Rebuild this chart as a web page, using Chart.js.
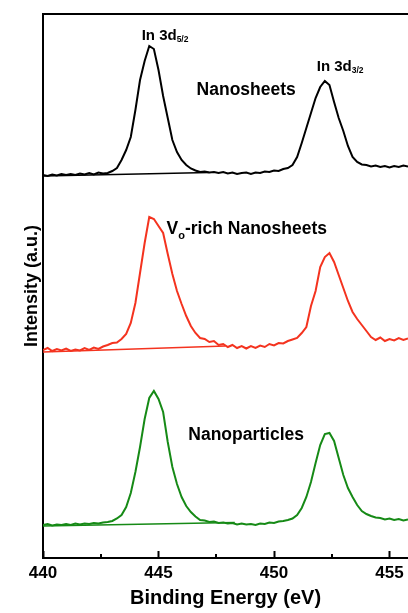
<!DOCTYPE html>
<html>
<head>
<meta charset="utf-8">
<script src="https://cdn.jsdelivr.net/npm/chart.js@4.4.0/dist/chart.umd.min.js"></script>
<style>
  html, body { margin: 0; padding: 0; background: #fff; }
</style>
</head>
<body>
<canvas id="xpsChart" width="408" height="613"></canvas>
<script>
// binding energy (eV)
const energy = [
  440.0, 440.2, 440.4, 440.6, 440.8, 441.0, 441.2, 441.4, 441.6, 441.8,
  442.0, 442.2, 442.4, 442.6, 442.8, 443.0, 443.2, 443.4, 443.6, 443.8,
  444.0, 444.2, 444.4, 444.6, 444.8, 445.0, 445.2, 445.4, 445.6, 445.8,
  446.0, 446.2, 446.4, 446.6, 446.8, 447.0, 447.2, 447.4, 447.6, 447.8,
  448.0, 448.2, 448.4, 448.6, 448.8, 449.0, 449.2, 449.4, 449.6, 449.8,
  450.0, 450.2, 450.4, 450.6, 450.8, 451.0, 451.2, 451.4, 451.6, 451.8,
  452.0, 452.2, 452.4, 452.6, 452.8, 453.0, 453.2, 453.4, 453.6, 453.8,
  454.0, 454.2, 454.4, 454.6, 454.8, 455.0, 455.2, 455.4, 455.6, 455.8
];

// intensity (a.u., stacked offsets)
const nanosheets = [
  383, 382, 383.5, 382.5, 384, 383, 384, 383, 384.5, 383.5,
  385, 383.5, 385.5, 384.5, 385, 387, 390, 398, 408, 421,
  448, 478, 497, 512, 509, 488, 462, 440, 418, 406,
  398, 393, 389.5, 387.5, 386, 386.5, 385.5, 386, 385, 386,
  384.5, 385.5, 384, 385, 385.5, 384, 385.5, 385, 386.5, 386,
  387.5, 387, 389, 390, 393, 401, 415, 430, 445, 460,
  471, 477, 473, 456, 440, 427, 412, 401, 396, 393.5,
  393, 391.5, 392.5, 391, 392, 390.5, 392, 391, 392.5, 391.5
];
const voRich = [
  208, 210, 207, 209, 207.5, 209.5, 207, 208.5, 207.5, 210,
  208, 210.5, 209, 211.5, 213, 215, 215.5, 219, 224, 235,
  255, 285, 315, 341, 339, 332, 325, 304, 284, 267,
  254, 242, 232, 225, 220, 219, 216, 217, 213, 214,
  211, 213, 210, 212, 209.5, 212, 210, 212.5, 211, 214,
  212.5, 215, 214.5, 217, 218.5, 220, 225, 231, 252, 267,
  291, 301, 305, 296, 283, 270, 257, 246, 239, 233,
  227, 221, 218, 220.5, 217, 219, 217.5, 220, 218, 219.5
];
const nanoparticles = [
  33, 34, 32.5, 33.5, 33, 34, 33, 34.5, 33.5, 34.5,
  34, 35, 34.5, 35.5, 36, 37, 39.5, 43, 51, 65,
  86, 111, 139, 160, 167, 159, 146, 116, 91, 74,
  61, 52, 46, 41.5, 38, 37.5, 36, 36.5, 35, 35.5,
  34.5, 35, 33.5, 34.5, 33.5, 34, 33, 34.5, 34, 35.5,
  35, 36.5, 37, 38, 39.5, 43, 50, 61, 76, 95,
  113, 124, 125, 117, 100, 83, 70, 61, 53, 47,
  44, 42, 40.5, 40, 38.5, 39.5, 38, 39, 37.5, 38.5
];

// linear backgrounds under the 3d5/2 peak
const bgNanosheetsE = [440.0, 447.2];
const bgNanosheets = [382, 385.5];
const bgVoRichE = [440.0, 447.9];
const bgVoRich = [206, 212];
const bgNanoparticlesE = [440.0, 448.3];
const bgNanoparticles = [32, 35.5];

const xTicks = [440, 445, 450, 455];
const xMinorTicks = [442.5, 447.5, 452.5];

const family = "Arial, 'Liberation Sans', sans-serif";
Chart.defaults.font.family = family;
Chart.defaults.color = '#000';

const pts = (xs, ys) => xs.map((x, i) => ({ x: x, y: ys[i] }));

const line = (data, color, w) => ({
  data: data,
  borderColor: color,
  borderWidth: w,
  pointRadius: 0,
  fill: false,
  tension: 0
});

// curve labels, placed in data units
const curveLabels = [
  { x: 444.27, y: 518, size: 15, subSize: 8.5, drop: 2, parts: [{ t: 'In 3d' }, { t: '5/2', sub: true }] },
  { x: 451.85, y: 487, size: 15, subSize: 8.5, drop: 2, parts: [{ t: 'In 3d' }, { t: '3/2', sub: true }] },
  { x: 446.65, y: 463, size: 17.5, parts: [{ t: 'Nanosheets' }] },
  { x: 445.35, y: 324, size: 17.5, subSize: 11, drop: 5, parts: [{ t: 'V' }, { t: 'o', sub: true }, { t: '-rich Nanosheets' }] },
  { x: 446.29, y: 118, size: 17.5, parts: [{ t: 'Nanoparticles' }] }
];

const labelPlugin = {
  id: 'curveLabels',
  afterDatasetsDraw(chart) {
    const { ctx, scales: { x, y } } = chart;
    ctx.save();
    ctx.fillStyle = '#000';
    ctx.textAlign = 'left';
    ctx.textBaseline = 'alphabetic';
    curveLabels.forEach(l => {
      let px = x.getPixelForValue(l.x);
      const py = y.getPixelForValue(l.y);
      l.parts.forEach(p => {
        ctx.font = 'bold ' + (p.sub ? l.subSize : l.size) + 'px ' + family;
        ctx.fillText(p.t, px, py + (p.sub ? l.drop : 0));
        px += ctx.measureText(p.t).width;
      });
    });
    // minor ticks on the energy axis
    ctx.strokeStyle = '#000';
    ctx.lineWidth = 2;
    xMinorTicks.forEach(v => {
      const px = Math.round(x.getPixelForValue(v));
      ctx.beginPath();
      ctx.moveTo(px, x.top);
      ctx.lineTo(px, x.top - 4);
      ctx.stroke();
    });
    ctx.restore();
  }
};

new Chart(document.getElementById('xpsChart'), {
  type: 'line',
  data: {
    datasets: [
      line(pts(energy, nanosheets), '#000000', 2),
      line(pts(energy, voRich), '#f4331f', 2),
      line(pts(energy, nanoparticles), '#168a16', 2),
      line(pts(bgNanosheetsE, bgNanosheets), '#000000', 1.5),
      line(pts(bgVoRichE, bgVoRich), '#f4331f', 1.5),
      line(pts(bgNanoparticlesE, bgNanoparticles), '#168a16', 1.5)
    ]
  },
  options: {
    responsive: false,
    animation: false,
    layout: { padding: 0 },
    plugins: { legend: { display: false }, tooltip: { enabled: false } },
    scales: {
      x: {
        type: 'linear',
        position: 'bottom',
        min: 440,
        max: 455.8,
        afterBuildTicks: s => { s.ticks = xTicks.map(v => ({ value: v })); },
        afterFit: s => {
          s.height = 55;
          s.paddingLeft = 0;
          s.paddingRight = 0;
        },
        ticks: {
          autoSkip: false,
          maxRotation: 0,
          padding: 12,
          font: { size: 17, weight: 'bold' }
        },
        grid: {
          display: true,
          drawOnChartArea: false,
          drawTicks: true,
          tickLength: -7,
          tickColor: '#000',
          tickWidth: 2
        },
        border: { display: true, color: '#000', width: 2 },
        title: {
          display: true,
          text: 'Binding Energy (eV)',
          font: { size: 20, weight: 'bold' },
          padding: { top: 0, bottom: 3 }
        }
      },
      x2: {
        type: 'linear',
        position: 'top',
        min: 440,
        max: 455.8,
        afterFit: s => {
          s.height = 14;
          s.paddingLeft = 0;
          s.paddingRight = 0;
        },
        ticks: { display: false },
        grid: { display: false },
        border: { display: true, color: '#000', width: 2 }
      },
      y: {
        min: 0,
        max: 544,
        afterFit: s => { s.width = 43; },
        ticks: { display: false },
        grid: { display: false },
        border: { display: true, color: '#000', width: 2 },
        title: {
          display: true,
          text: 'Intensity (a.u.)',
          font: { size: 18, weight: 'bold' },
          padding: { top: 21, bottom: 0 }
        }
      }
    }
  },
  plugins: [labelPlugin]
});
</script>
</body>
</html>
